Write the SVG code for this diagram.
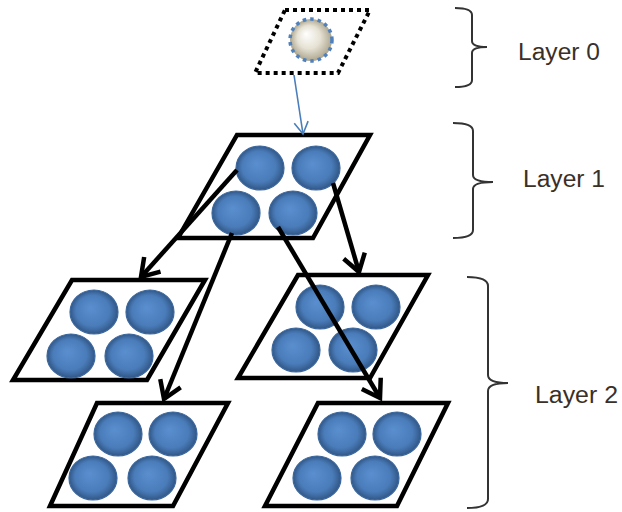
<svg xmlns="http://www.w3.org/2000/svg" width="622" height="512" viewBox="0 0 622 512">
<defs>
<radialGradient id="ball" cx="50%" cy="50%" r="50%" fx="42%" fy="40%">
<stop offset="0%" stop-color="#5a8fcf"/>
<stop offset="70%" stop-color="#4a7cba"/>
<stop offset="90%" stop-color="#3a6498"/>
<stop offset="100%" stop-color="#2f5587"/>
</radialGradient>
<radialGradient id="sphere" cx="50%" cy="50%" r="50%" fx="38%" fy="35%">
<stop offset="0%" stop-color="#ffffff"/>
<stop offset="55%" stop-color="#e6e2d4"/>
<stop offset="100%" stop-color="#aca58e"/>
</radialGradient>
<marker id="ah" markerUnits="userSpaceOnUse" markerWidth="40" markerHeight="40" viewBox="-20 -20 40 40" refX="0" refY="0" orient="auto" overflow="visible">
<path d="M-17,-11 L0,0 L-17,11" fill="none" stroke="#000" stroke-width="4.5" stroke-linejoin="miter"/>
</marker>
<marker id="ahb" markerUnits="userSpaceOnUse" markerWidth="30" markerHeight="30" viewBox="-15 -15 30 30" refX="0" refY="0" orient="auto" overflow="visible">
<path d="M-12,-7 L0,0 L-12,7" fill="none" stroke="#4a7ebb" stroke-width="1.6"/>
</marker>
</defs>
<style>
.plate{fill:#fff;stroke:#000;stroke-width:4.5;stroke-linejoin:miter}
.dot{fill:#fff;stroke:#000;stroke-width:4;stroke-dasharray:4 4}
.b{fill:url(#ball);stroke:#3b679d;stroke-width:1.2}
.edge{fill:none;stroke:#000;stroke-width:4.5}
.brace{fill:none;stroke:#333;stroke-width:2}
.lbl{font-family:"Liberation Sans",Arial,sans-serif;font-size:23px;fill:#3a3028}
</style>
<g id="n0">
<polygon class="dot" points="285,10 370,10 338,73 255,73"/>
<circle cx="311" cy="40" r="21" fill="url(#sphere)" stroke="#4f81bd" stroke-width="3.5" stroke-dasharray="3.5 4"/>
</g>
<g id="n1">
<polygon class="plate" points="237,135 370,135 313,238 178,238"/>
<ellipse class="b" cx="260" cy="168" rx="24" ry="22"/>
<ellipse class="b" cx="316" cy="168" rx="24" ry="22"/>
<ellipse class="b" cx="236" cy="213" rx="24" ry="22"/>
<ellipse class="b" cx="293" cy="213" rx="24" ry="22"/>
</g>
<g id="n2">
<polygon class="plate" points="72,280 205,280 147,380 13,380"/>
<ellipse class="b" cx="94" cy="312" rx="24" ry="22"/>
<ellipse class="b" cx="150" cy="312" rx="24" ry="22"/>
<ellipse class="b" cx="71" cy="356" rx="24" ry="22"/>
<ellipse class="b" cx="129" cy="356" rx="24" ry="22"/>
</g>
<g id="n3">
<polygon class="plate" points="298,275 428,275 370,378 238,378"/>
<ellipse class="b" cx="320" cy="307" rx="24" ry="22"/>
<ellipse class="b" cx="376" cy="307" rx="24" ry="22"/>
<ellipse class="b" cx="296" cy="350" rx="24" ry="22"/>
<ellipse class="b" cx="353" cy="350" rx="24" ry="22"/>
</g>
<g id="n4">
<polygon class="plate" points="97,403 228,403 173,506 50,506"/>
<ellipse class="b" cx="118" cy="434" rx="24" ry="22"/>
<ellipse class="b" cx="173" cy="434" rx="24" ry="22"/>
<ellipse class="b" cx="93" cy="478" rx="24" ry="22"/>
<ellipse class="b" cx="152" cy="478" rx="24" ry="22"/>
</g>
<g id="n5">
<polygon class="plate" points="318,403 448,403 397,506 265,506"/>
<ellipse class="b" cx="342" cy="434" rx="24" ry="22"/>
<ellipse class="b" cx="397" cy="434" rx="24" ry="22"/>
<ellipse class="b" cx="317" cy="478" rx="24" ry="22"/>
<ellipse class="b" cx="375" cy="478" rx="24" ry="22"/>
</g>
<g id="connectors">
<line x1="294" y1="75" x2="303" y2="134" stroke="#4a7ebb" stroke-width="1.6" marker-end="url(#ahb)"/>
<line class="edge" x1="237" y1="170" x2="141" y2="277" marker-end="url(#ah)"/>
<line class="edge" x1="232" y1="233" x2="164" y2="399" marker-end="url(#ah)"/>
<line class="edge" x1="333" y1="183" x2="359" y2="272" marker-end="url(#ah)"/>
<line class="edge" x1="278" y1="227" x2="380" y2="398" marker-end="url(#ah)"/>
</g>
<g id="labels">
<path class="brace" d="M455,8 Q472,8 472,15 L472,41 Q472,47 487,47 Q472,47 472,53 L472,80 Q472,87 455,87"/>
<path class="brace" d="M453,123 Q473,123 473,131 L473,175 Q473,182 493,182 Q473,182 473,189 L473,230 Q473,238 453,238"/>
<path class="brace" d="M467,277 Q488,277 488,286 L488,375 Q488,383 508,383 Q488,383 488,391 L488,499 Q488,508 467,508"/>
<text class="lbl" x="518" y="60" textLength="82" lengthAdjust="spacingAndGlyphs">Layer 0</text>
<text class="lbl" x="523" y="187" textLength="82" lengthAdjust="spacingAndGlyphs">Layer 1</text>
<text class="lbl" x="535" y="403" textLength="83" lengthAdjust="spacingAndGlyphs">Layer 2</text>
</g>
</svg>
